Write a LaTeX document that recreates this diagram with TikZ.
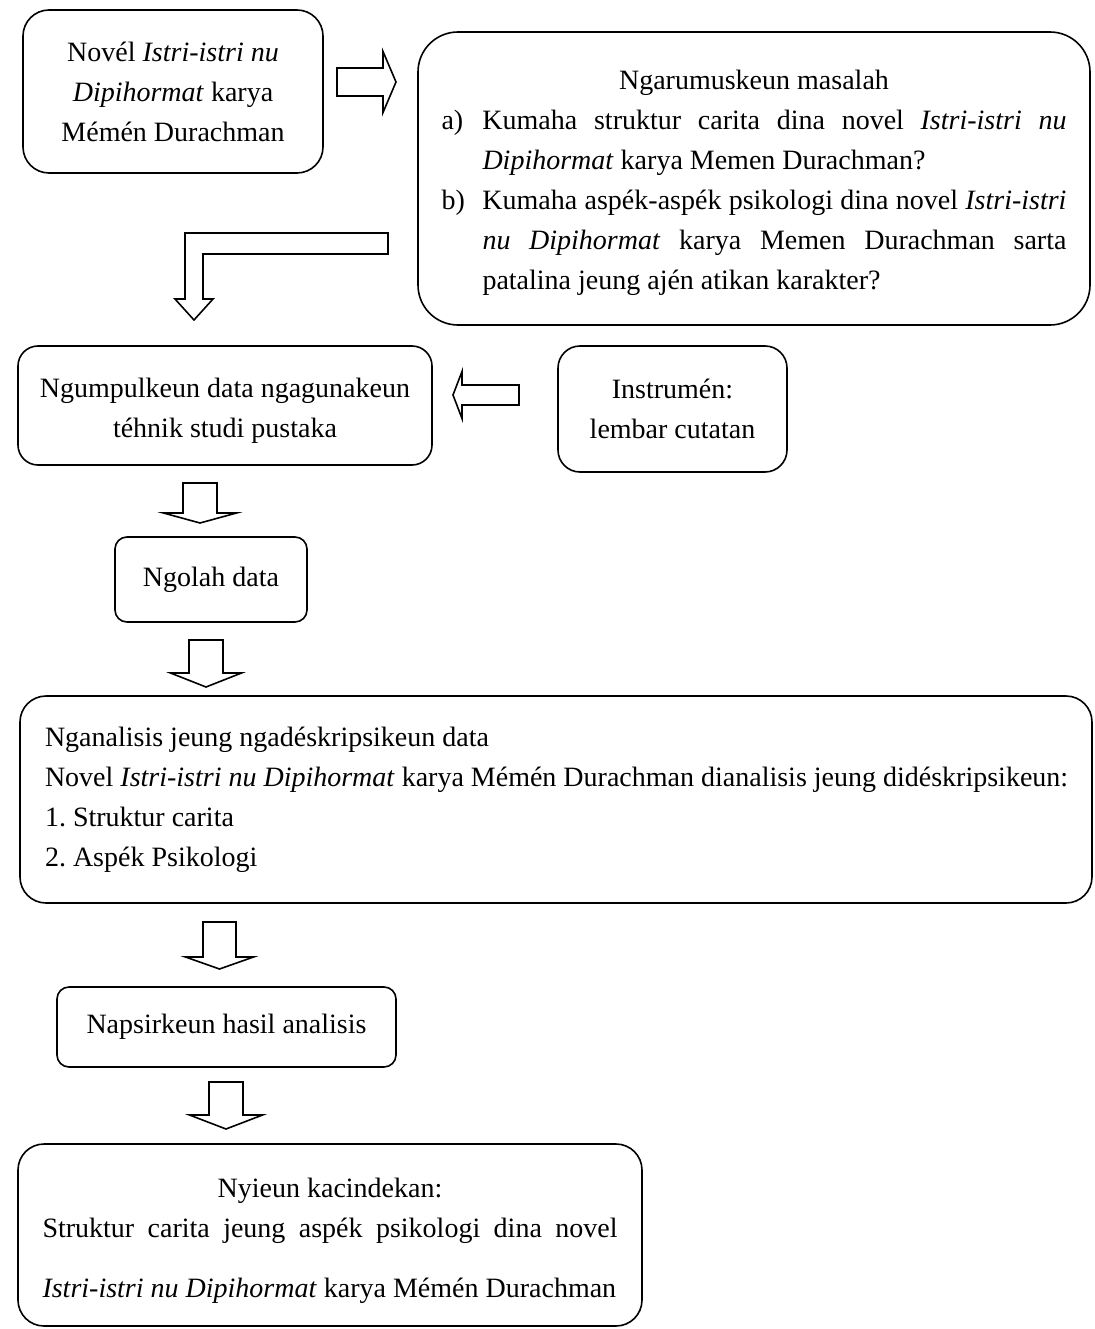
\documentclass[tikz,border=0pt]{standalone}
\usepackage{fontspec}
\setmainfont{Liberation Serif}
\usetikzlibrary{calc}
\frenchspacing
\tikzset{
  boxnode/.style={draw, line width=1.6pt, inner sep=0pt, align=center},
  blk/.style={draw, line width=1.6pt, line join=miter, fill=white},
}
% vertical block arrow: #1 start (tail centre), #2 tip, #3 shaft half width, #4 head half width, #5 head length
\newcommand\vblockarrow[5]{%
  \draw[blk] let \p1=(#1), \p2=(#2) in
    (\x1-#3,\y1) -- (\x1+#3,\y1) -- (\x1+#3,\y2+#5) -- (\x1+#4,\y2+#5) --
    (\x1,\y2) -- (\x1-#4,\y2+#5) -- (\x1-#3,\y2+#5) -- cycle;}
% horizontal block arrow: #5 signed head length (positive: pointing right)
\newcommand\hblockarrow[5]{%
  \draw[blk] let \p1=(#1), \p2=(#2) in
    (\x1,\y1-#3) -- (\x1,\y1+#3) -- (\x2-#5,\y1+#3) -- (\x2-#5,\y1+#4) --
    (\x2,\y1) -- (\x2-#5,\y1-#4) -- (\x2-#5,\y1-#3) -- cycle;}
\begin{document}
\begin{tikzpicture}[x=1pt,y=-1pt,font=\fontsize{28}{40}\selectfont\frenchspacing]
\useasboundingbox (0,0) rectangle (1094,1329);

% boxes
\node[boxnode, rounded corners=26pt, minimum width=300pt, minimum height=163pt] (novel) at (173,91.5)
  {\parbox{292pt}{\centering Novél \textit{Istri-istri nu}\\ \textit{Dipihormat} karya\\ Mémén Durachman}};

\node[boxnode, rounded corners=40pt, minimum width=672pt, minimum height=293pt] (masalah) at (754,178.5)
  {\parbox{625pt}{\vspace*{8pt}\centering Ngarumuskeun masalah\par
   \makebox[41pt][l]{a)}\makebox[584pt][s]{Kumaha struktur carita dina novel \textit{Istri-istri nu}}\par
   \hspace*{41pt}\makebox[584pt][l]{\textit{Dipihormat} karya Memen Durachman?}\par
   \makebox[41pt][l]{b)}\makebox[584pt][s]{Kumaha aspék-aspék psikologi dina novel \textit{Istri-istri}}\par
   \hspace*{41pt}\makebox[584pt][s]{\textit{nu Dipihormat} karya Memen Durachman sarta}\par
   \hspace*{41pt}\makebox[584pt][l]{patalina jeung ajén atikan karakter?}\par}};

\node[boxnode, rounded corners=20pt, minimum width=414pt, minimum height=119pt] (ngumpul) at (225,405.5)
  {\parbox{404pt}{\vspace*{10pt}\centering Ngumpulkeun data ngagunakeun\\ téhnik studi pustaka}};

\node[boxnode, rounded corners=22pt, minimum width=229pt, minimum height=126pt] (instrumen) at (672.5,409)
  {\parbox{220pt}{\centering Instrumén:\\ lembar cutatan}};

\node[boxnode, rounded corners=12pt, minimum width=192pt, minimum height=85pt] (ngolah) at (211,579.5)
  {Ngolah data};

\node[boxnode, rounded corners=26pt, minimum width=1072pt, minimum height=207pt] (analisis) at (556,799.5)
  {\parbox{1022pt}{%
   \makebox[\linewidth][l]{Nganalisis jeung ngadéskripsikeun data}\par
   \makebox[\linewidth][l]{Novel \textit{Istri-istri nu Dipihormat} karya Mémén Durachman dianalisis jeung didéskripsikeun:}\par
   \makebox[\linewidth][l]{1. Struktur carita}\par
   \makebox[\linewidth][l]{2. Aspék Psikologi}\par}};

\node[boxnode, rounded corners=12pt, minimum width=339pt, minimum height=80pt] (napsir) at (226.5,1027)
  {Napsirkeun hasil analisis};

\node[boxnode, rounded corners=26pt, minimum width=624pt, minimum height=182pt] (nyieun) at (330,1235)
  {\parbox{575pt}{\vspace*{12pt}\centering Nyieun kacindekan:\par
   \makebox[\linewidth][s]{Struktur carita jeung aspék psikologi dina novel}\par
   \vspace{20pt}
   \makebox[\linewidth][l]{\textit{Istri-istri nu Dipihormat} karya Mémén Durachman}\par}};

% connector end points
\coordinate (r1s) at (337,82);   \coordinate (r1t) at (396,82);
\coordinate (l1s) at (519,395);  \coordinate (l1t) at (453,395);
\coordinate (d1s) at (200,483);  \coordinate (d1t) at (200,523);
\coordinate (d2s) at (206,640);  \coordinate (d2t) at (206,687);
\coordinate (d3s) at (219.5,922);\coordinate (d3t) at (219.5,969);
\coordinate (d4s) at (226,1082); \coordinate (d4t) at (226,1129);

% block arrows
\hblockarrow{r1s}{r1t}{14pt}{30.5pt}{13pt}
\hblockarrow{l1s}{l1t}{10pt}{23.5pt}{-9pt}
\vblockarrow{d1s}{d1t}{17pt}{36.5pt}{10pt}
\vblockarrow{d2s}{d2t}{17pt}{35.5pt}{14pt}
\vblockarrow{d3s}{d3t}{16.5pt}{34pt}{12pt}
\vblockarrow{d4s}{d4t}{17pt}{36.5pt}{14pt}

% L-shaped arrow from problem box down to data collection
\draw[blk] (388,233) -- (185,233) -- (185,299) -- (175,299) -- (194,320) -- (213,299)
  -- (203,299) -- (203,254) -- (388,254) -- cycle;
\end{tikzpicture}
\end{document}
